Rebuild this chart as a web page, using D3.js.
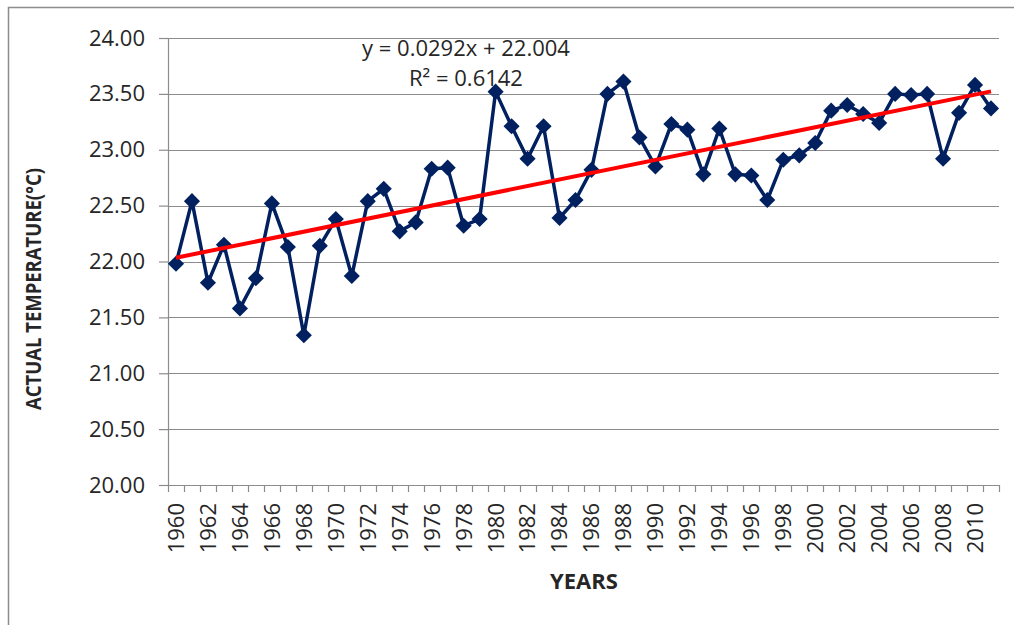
<!DOCTYPE html>
<html>
<head>
<meta charset="utf-8">
<script src="https://cdn.jsdelivr.net/npm/d3@7"></script>
<style>
  body { margin: 0; background: #fff; }
  svg { display: block; }
  text { font-family: "Open Sans", Lato, sans-serif; fill: #262626; }
</style>
</head>
<body>
<svg width="1014" height="625"></svg>
<script>
// years on the category axis
let years = [1960, 1961, 1962, 1963, 1964, 1965, 1966, 1967, 1968, 1969,
  1970, 1971, 1972, 1973, 1974, 1975, 1976, 1977, 1978, 1979,
  1980, 1981, 1982, 1983, 1984, 1985, 1986, 1987, 1988, 1989,
  1990, 1991, 1992, 1993, 1994, 1995, 1996, 1997, 1998, 1999,
  2000, 2001, 2002, 2003, 2004, 2005, 2006, 2007, 2008, 2009,
  2010, 2011];

// actual temperature
let temps = [21.98, 22.54, 21.81, 22.15, 21.58, 21.85, 22.52, 22.13, 21.34, 22.14,
  22.38, 21.87, 22.54, 22.65, 22.27, 22.35, 22.83, 22.84, 22.32, 22.38,
  23.52, 23.21, 22.92, 23.21, 22.39, 22.55, 22.82, 23.50, 23.61, 23.11,
  22.85, 23.23, 23.18, 22.78, 23.19, 22.78, 22.77, 22.55, 22.91, 22.95,
  23.06, 23.35, 23.40, 23.32, 23.24, 23.50, 23.49, 23.50, 22.92, 23.33,
  23.58, 23.37];

let yTicks = [20, 20.5, 21, 21.5, 22, 22.5, 23, 23.5, 24];

// linear trendline as printed on the chart (x = 1 .. n)
let trendSlope = 0.0292;
let trendIntercept = 22.004;
let trendLabel = ["y = 0.0292x + 22.004", "R² = 0.6142"];

let svg = d3.select("svg");

// outer chart border (only top and left show up in the picture)
svg.append("rect")
  .attr("x", 8.5).attr("y", 7.5)
  .attr("width", 1100).attr("height", 700)
  .attr("fill", "none")
  .attr("stroke", "#8c8c8c")
  .attr("stroke-width", 1.5);

let margin = { top: 38, right: 15, bottom: 140, left: 168 };
let plotWidth = 999 - margin.left;
let plotHeight = 485 - margin.top;

let plot = svg.append("g")
  .attr("transform", "translate(" + margin.left + "," + margin.top + ")");

let x = d3.scaleBand()
  .domain(years)
  .range([0, plotWidth]);

let y = d3.scaleLinear()
  .domain([20, 24])
  .range([plotHeight, 0]);

// horizontal gridlines
plot.append("g")
  .selectAll("line")
  .data(yTicks.slice(1))
  .join("line")
  .attr("x1", 0).attr("x2", plotWidth)
  .attr("y1", d => Math.round(y(d)) + 0.5)
  .attr("y2", d => Math.round(y(d)) + 0.5)
  .attr("stroke", "#8c8c8c")
  .attr("stroke-width", 1.2);

// y axis
let yAxis = d3.axisLeft(y)
  .tickValues(yTicks)
  .tickFormat(d3.format(".2f"))
  .tickSize(9)
  .tickPadding(14);

let yGroup = plot.append("g").call(yAxis);
yGroup.select(".domain").attr("stroke", "#8c8c8c").attr("stroke-width", 1.2);
yGroup.selectAll(".tick line").attr("stroke", "#8c8c8c").attr("stroke-width", 1.2);
yGroup.selectAll(".tick text")
  .attr("font-size", 22)
  .attr("font-family", "'Open Sans', sans-serif")
  .attr("fill", "#262626");

// x axis: ticks sit between categories, labels every second year
let xGroup = plot.append("g")
  .attr("transform", "translate(0," + plotHeight + ")");

xGroup.append("line")
  .attr("x1", 0).attr("x2", plotWidth)
  .attr("y1", 0.5).attr("y2", 0.5)
  .attr("stroke", "#8c8c8c")
  .attr("stroke-width", 1.2);

let edges = years.map(d => x(d)).concat([plotWidth]);
xGroup.selectAll("line.tick")
  .data(edges)
  .join("line")
  .attr("class", "tick")
  .attr("x1", d => Math.round(d) + 0.5).attr("x2", d => Math.round(d) + 0.5)
  .attr("y1", 0).attr("y2", 7)
  .attr("stroke", "#8c8c8c")
  .attr("stroke-width", 1.2);

xGroup.selectAll("text")
  .data(years.filter((d, i) => i % 2 === 0))
  .join("text")
  .attr("transform", d => "translate(" + (x(d) + x.bandwidth() / 2) + ",18) rotate(-90)")
  .attr("text-anchor", "end")
  .attr("dy", "0.36em")
  .attr("font-size", 22)
  .text(d => d);

// data line and diamond markers
let line = d3.line()
  .x((d, i) => x(years[i]) + x.bandwidth() / 2)
  .y(d => y(d));

plot.append("path")
  .datum(temps)
  .attr("d", line)
  .attr("fill", "none")
  .attr("stroke", "#002060")
  .attr("stroke-width", 3.5)
  .attr("stroke-linejoin", "round");

let diamond = d3.symbol(d3.symbolSquare, 130);
plot.append("g")
  .selectAll("path")
  .data(temps)
  .join("path")
  .attr("d", diamond)
  .attr("transform", (d, i) => "translate(" + (x(years[i]) + x.bandwidth() / 2) + "," + y(d) + ") rotate(45)")
  .attr("fill", "#002060");

// trendline from the first to the last category
let n = years.length;
let trend = [
  { i: 0, v: trendSlope * 1 + trendIntercept },
  { i: n - 1, v: trendSlope * n + trendIntercept }
];
plot.append("path")
  .datum(trend)
  .attr("d", d3.line()
    .x(d => x(years[d.i]) + x.bandwidth() / 2)
    .y(d => y(d.v)))
  .attr("stroke", "#ff0000")
  .attr("stroke-width", 4)
  .attr("fill", "none");

// trendline label
svg.append("g")
  .selectAll("text")
  .data(trendLabel)
  .join("text")
  .attr("x", 466)
  .attr("y", (d, i) => 56 + i * 30)
  .attr("text-anchor", "middle")
  .attr("font-size", 22)
  .text(d => d);

// axis titles
svg.append("text")
  .attr("x", 584)
  .attr("y", 589)
  .attr("text-anchor", "middle")
  .attr("font-family", "Lato, sans-serif")
  .attr("font-size", 22)
  .attr("font-weight", "bold")
  .attr("fill", "#0d0d0d")
  .text("YEARS");

svg.append("text")
  .attr("transform", "translate(41,289) rotate(-90)")
  .attr("text-anchor", "middle")
  .attr("font-family", "Lato, sans-serif")
  .attr("font-size", 22)
  .attr("font-weight", "bold")
  .attr("fill", "#0d0d0d")
  .attr("textLength", 242)
  .attr("lengthAdjust", "spacingAndGlyphs")
  .text("ACTUAL TEMPERATURE(°C)");
</script>
</body>
</html>
